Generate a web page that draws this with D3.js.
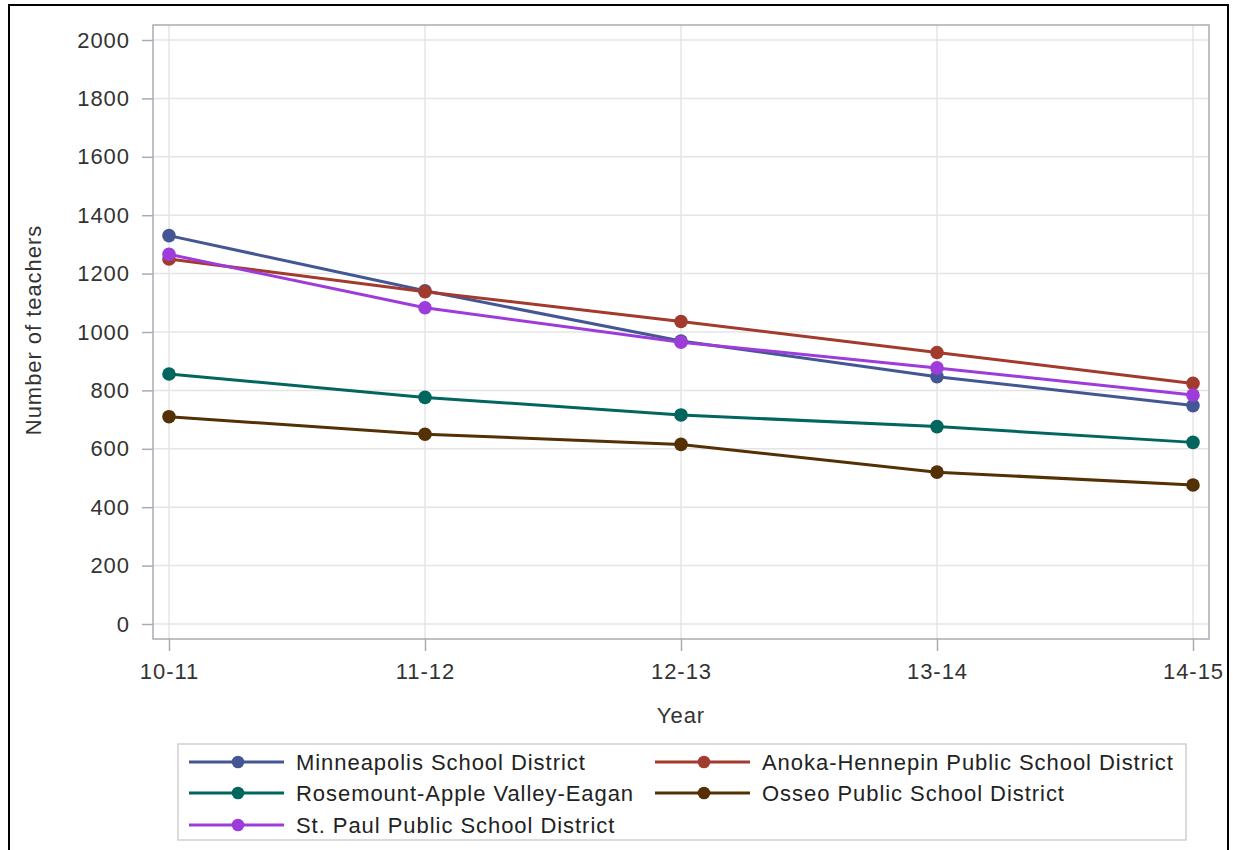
<!DOCTYPE html>
<html>
<head>
<meta charset="utf-8">
<script src="https://cdn.jsdelivr.net/npm/d3@7"></script>
<style>
  html, body { margin: 0; padding: 0; background: #fff; }
  text { font-family: "Liberation Sans", Arial, sans-serif; }
</style>
</head>
<body>
<svg id="chart" width="1233" height="850"></svg>
<script>
// ---- data ----
const years = ["10-11", "11-12", "12-13", "13-14", "14-15"];
const seriesNames = [
  "Minneapolis School District",
  "Anoka-Hennepin Public School District",
  "Rosemount-Apple Valley-Eagan",
  "Osseo Public School District",
  "St. Paul Public School District"
];
const minneapolis = [1330, 1141, 969, 847, 748];
const anoka       = [1250, 1138, 1036, 930, 824];
const rosemount   = [856, 776, 716, 676, 622];
const osseo       = [710, 650, 615, 520, 476];
const stpaul      = [1266, 1083, 965, 877, 784];
const yTicks = [0, 200, 400, 600, 800, 1000, 1200, 1400, 1600, 1800, 2000];
const colors = ["#445694", "#A23A2E", "#01665E", "#543005", "#9D3CDB"];

const seriesValues = [minneapolis, anoka, rosemount, osseo, stpaul];
const series = seriesNames.map((n, i) => ({ name: n, values: seriesValues[i], color: colors[i] }));

const svg = d3.select("#chart");
const fontSize = 22, ls = "0.95px", textColor = "#333";

// outer border
svg.append("rect").attr("x", 9).attr("y", 5).attr("width", 1219).attr("height", 860)
  .attr("fill", "none").attr("stroke", "#000").attr("stroke-width", 2);

// plot frame
const frame = { left: 153, right: 1209, top: 25, bottom: 639 };
const x = d3.scalePoint().domain(years).range([169, 1193]);
const y = d3.scaleLinear().domain([0, 2000]).range([624, 40]);

// grid
const grid = svg.append("g");
grid.selectAll("line.h").data(yTicks).join("line")
  .attr("x1", frame.left).attr("x2", frame.right)
  .attr("y1", d => y(d)).attr("y2", d => y(d))
  .attr("stroke", "#e4e4e4").attr("stroke-width", 1.5);
grid.selectAll("line.v").data(years).join("line")
  .attr("y1", frame.top).attr("y2", frame.bottom)
  .attr("x1", d => x(d)).attr("x2", d => x(d))
  .attr("stroke", "#e4e4e4").attr("stroke-width", 1.5);

// frame
svg.append("rect").attr("x", frame.left).attr("y", frame.top)
  .attr("width", frame.right - frame.left).attr("height", frame.bottom - frame.top)
  .attr("fill", "none").attr("stroke", "#a8adb2").attr("stroke-width", 1.5);

// y axis
const yAxis = d3.axisLeft(y).tickValues(yTicks).tickSize(11).tickPadding(12).tickFormat(d3.format("d"));
const gy = svg.append("g").attr("transform", `translate(${frame.left},0)`).call(yAxis);
gy.select(".domain").remove();
gy.selectAll(".tick line").attr("stroke", "#a8adb2").attr("stroke-width", 1.5);
gy.selectAll(".tick text").attr("fill", textColor).style("font-size", fontSize + "px")
  .style("letter-spacing", ls).attr("font-family", null);

// x axis
const xAxis = d3.axisBottom(x).tickSize(12).tickPadding(12);
const gx = svg.append("g").attr("transform", `translate(0,${frame.bottom})`).call(xAxis);
gx.select(".domain").remove();
gx.selectAll(".tick line").attr("stroke", "#a8adb2").attr("stroke-width", 1.5);
gx.selectAll(".tick text").attr("fill", textColor).style("font-size", fontSize + "px")
  .style("letter-spacing", ls).attr("font-family", null);

// axis titles
svg.append("text").attr("x", 681).attr("y", 723).attr("text-anchor", "middle")
  .attr("fill", textColor).style("font-size", fontSize + "px").style("letter-spacing", ls).text("Year");
svg.append("text").attr("transform", "translate(41,330) rotate(-90)").attr("text-anchor", "middle")
  .attr("fill", textColor).style("font-size", fontSize + "px").style("letter-spacing", ls).text("Number of teachers");

// lines
const line = d3.line().x((d, i) => x(years[i])).y(d => y(d));
const sg = svg.append("g");
series.forEach(s => {
  sg.append("path").datum(s.values).attr("d", line).attr("fill", "none")
    .attr("stroke", s.color).attr("stroke-width", 3);
});
series.forEach(s => {
  sg.selectAll(null).data(s.values).join("circle")
    .attr("cx", (d, i) => x(years[i])).attr("cy", d => y(d)).attr("r", 6.8).attr("fill", s.color);
});

// legend
svg.append("rect").attr("x", 178).attr("y", 744).attr("width", 1008).attr("height", 96)
  .attr("fill", "none").attr("stroke", "#cfcfcf").attr("stroke-width", 1.5);
const colX = [189, 655];
const rowY = [762, 793, 825];
series.forEach((s, i) => {
  const cx = colX[i % 2], cy = rowY[Math.floor(i / 2)];
  const g = svg.append("g");
  g.append("line").attr("x1", cx).attr("x2", cx + 95).attr("y1", cy).attr("y2", cy)
    .attr("stroke", s.color).attr("stroke-width", 3);
  g.append("circle").attr("cx", cx + 49).attr("cy", cy).attr("r", 6.3).attr("fill", s.color);
  g.append("text").attr("x", cx + 107).attr("y", cy).attr("dy", "0.35em")
    .attr("fill", "#222").style("font-size", fontSize + "px").style("letter-spacing", ls).text(s.name);
});
</script>
</body>
</html>
